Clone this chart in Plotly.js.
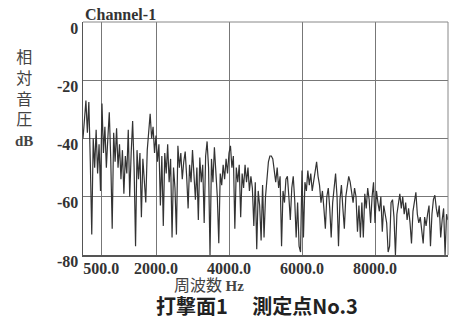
<!DOCTYPE html>
<html>
<head>
<meta charset="utf-8">
<script src="https://cdn.plot.ly/plotly-3.0.1.min.js"></script>
<style>html,body{margin:0;padding:0;background:#fff;}#chart{width:451px;height:321px;}</style>
</head>
<body>
<div id="chart"></div>
<script>
// FFT bin spacing (Hz) and spectrum level (dB)
var binStartHz = 0;
var binStepHz = 40;
var levelDb = [
-40,-33,-27,-38,-27.5,-48,-73,-40,-50,-37,-52,-42,-58,-28,-45,-36,-50,-40,-31,-47,
-71,-38,-48,-36.5,-50,-42,-54,-44,-59,-46,-52,-37,-60,-45,-34,-50,-77,-44,-54,-45,
-67,-47,-56,-62,-44,-38,-31.5,-40,-36,-45,-39,-48,-42,-63,-46,-70,-45,-52,-42,-55,
-47,-74,-50,-57,-73,-42.5,-50,-45,-54,-48,-44.5,-53,-64,-49,-55,-44,-52,-61,-50,-68,
-46.5,-55,-49,-69,-46,-41,-50,-80,-47,-55,-43,-52,-60,-76,-52,-56,-49,-54,-47,-52,
-45,-42.5,-50,-46,-71,-50,-55,-49,-67,-52,-57,-49,-55,-50,-58,-53,-57,-70,-55,-78,
-58,-63,-75,-56,-74,-60,-54,-48,-46,-46,-47,-51,-55,-50,-57,-53,-77,-58,-62,-54,
-53,-60,-68,-57,-53,-61,-74,-62,-77,-79,-51,-74,-55,-58,-51,-56,-52,-58,-54,-50,
-48,-53,-56,-62,-58,-64,-71,-60,-57,-64,-74,-62,-58,-52,-60,-77,-61,-56,-64,-71,
-60,-57,-53,-55,-58,-62,-57,-60,-72,-63,-74,-62,-74,-59,-64,-57,-61,-69,-60,-55,
-69,-58,-62,-65,-60,-72,-63,-66,-69,-79,-77,-62,-61,-67,-80,-66,-63,-59,-64,-60,
-66,-62,-68,-64,-69,-76,-65,-62,-58.5,-66,-69,-67,-72,-76,-67,-70,-66,-63,-77,-66,
-61,-59.5,-64,-67,-63,-74,-68,-64,-80,-66,-68
];
var xTickVals = [500, 2000, 4000, 6000, 8000];
var xTickText = ["500.0", "2000.0", "4000.0", "6000.0", "8000.0"];
var yTickVals = [0, -20, -40, -60, -80];
var yTickText = ["0", "-20", "-40", "-60", "-80"];
var yLabelChars = ["相", "対", "音", "圧"];
var channelLabel = "Channel-1";
var xTitleCjk = "周波数";
var xTitleUnit = "Hz";
var yTitleUnit = "dB";
var chartTitle = "打撃面1　 測定点No.3";

var freqHz = levelDb.map(function (_, i) { return binStartHz + i * binStepHz; });
function bold(s) { return "<b>" + s + "</b>"; }

var serifBold = "Liberation Serif";
var cjk = "Noto Sans CJK JP";
var unitSpan = function (s, px) {
  return "<span style='font-family:Liberation Serif;font-weight:bold;font-size:" + px + "px'>" + s + "</span>";
};

var ann = [];
ann.push({text: bold(channelLabel), xref: "paper", yref: "paper", x: 0.003, y: 1.034,
  xanchor: "left", yanchor: "middle", showarrow: false, borderpad: 0, font: {family: serifBold, size: 16, color: "#333"}});
// vertical stacked y-axis label (one text block)
ann.push({text: yLabelChars.join("<br>") + "<br>" + unitSpan(yTitleUnit, 15),
  xref: "paper", yref: "paper", x: -0.1616, y: 0.912, xanchor: "center", yanchor: "top",
  showarrow: false, borderpad: 0, align: "center", font: {family: cjk, size: 16, color: "#444"}});
ann.push({text: xTitleCjk + " " + unitSpan(xTitleUnit, 15),
  xref: "paper", yref: "paper", x: 0.345, y: -0.124, xanchor: "center", yanchor: "middle", showarrow: false, borderpad: 0,
  font: {family: cjk, size: 16, color: "#444"}});
ann.push({text: bold(chartTitle), xref: "paper", yref: "paper", x: 0.477, y: -0.217,
  xanchor: "center", yanchor: "middle", showarrow: false, borderpad: 0, font: {family: cjk, size: 20, color: "#222"}});

var data = [{
  x: freqHz, y: levelDb, type: "scatter", mode: "lines",
  line: {color: "#333333", width: 1.2}, hoverinfo: "skip"
}];

var layout = {
  width: 451, height: 321,
  margin: {l: 83, r: 3, t: 22, b: 66},
  paper_bgcolor: "#ffffff", plot_bgcolor: "#ffffff",
  showlegend: false,
  xaxis: {
    range: [0, 10000], tickmode: "array", tickvals: xTickVals, ticktext: xTickText.map(bold),
    showgrid: true, gridcolor: "#777", gridwidth: 1, zeroline: false,
    showline: true, linecolor: "#555", linewidth: 1.5, mirror: false, ticks: "",
    tickfont: {family: serifBold, size: 16, color: "#333"},
    ticklabelstandoff: -2
  },
  yaxis: {
    range: [-80, 0], tickmode: "array", tickvals: yTickVals, ticktext: yTickText.map(bold),
    showgrid: true, gridcolor: "#777", gridwidth: 1, zeroline: false,
    showline: true, linecolor: "#555", linewidth: 1.5, mirror: false, ticks: "",
    tickfont: {family: serifBold, size: 16, color: "#333"},
    ticklabelshift: 6
  },
  shapes: [
    {type: "line", xref: "paper", yref: "paper", x0: 0, x1: 1, y0: 1, y1: 1, line: {color: "#888", width: 1}},
    {type: "line", xref: "paper", yref: "paper", x0: 1, x1: 1, y0: 0, y1: 1, line: {color: "#888", width: 1}}
  ],
  annotations: ann
};

Plotly.newPlot("chart", data, layout, {staticPlot: true, displayModeBar: false});
</script>
</body>
</html>
